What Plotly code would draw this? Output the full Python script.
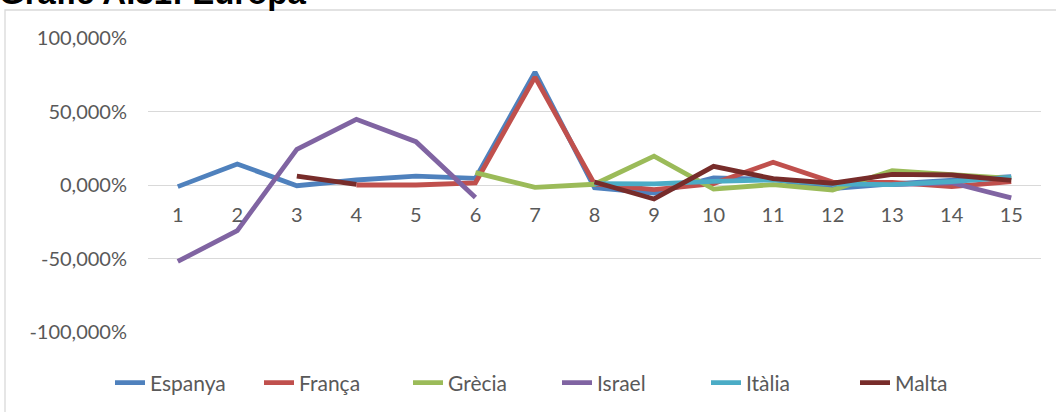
import plotly.graph_objects as go

# ---------------------------------------------------
# DATA (percent change)
# ---------------------------------------------------

periods = [1, 2, 3, 4, 5, 6, 7, 8, 9, 10, 11, 12, 13, 14, 15]
period_labels = [str(p) for p in periods]

espanya = [-1.1, 14.3, -0.5, 3.4, 6.1, 4.5, 76.8, -1.8, -5.5, 4.8, 3.9, -2.5, 0.8, 3.2, 5.6]
franca = [None, None, None, 0.0, 0.0, 1.5, 73.4, 0.7, -3.2, 1.0, 15.5, 2.0, 1.8, -1.1, 2.3]
grecia = [None, None, None, None, None, 8.4, -1.6, 0.5, 19.6, -2.8, 0.3, -3.4, 9.8, 7.0, 4.5]
israel = [-52.0, -31.0, 24.3, 44.7, 29.5, -8.5, None, None, None, None, None, None, 0.3, 1.5, -8.8]
italia = [None, None, None, None, None, None, None, 1.0, 0.7, 2.5, 3.5, 0.8, 0.2, 2.3, 5.2]
malta = [None, None, 6.1, 0.5, None, None, None, 2.0, -9.5, 12.7, 4.3, 1.2, 7.2, 6.8, 3.1]

series_names = ["Espanya", "França", "Grècia", "Israel", "Itàlia", "Malta"]
series_values = [espanya, franca, grecia, israel, italia, malta]
series_colors = ["#4F81BD", "#C0504D", "#9BBB59", "#8064A2", "#4BACC6", "#772C2A"]

y_ticks = [-100, -50, 0, 50, 100]
y_tick_labels = ["-100,000%", "-50,000%", "0,000%", "50,000%", "100,000%"]

title_text = "Gràfic A.31: Europa"

# ---------------------------------------------------
# FIGURE
# ---------------------------------------------------

W, H = 1056, 412
M_L, M_R, M_T, M_B = 148, 15, 38, 80
plot_w = W - M_L - M_R
plot_h = H - M_T - M_B


def px_x(px):
    return (px - M_L) / plot_w


def px_y(py):
    return (H - M_B - py) / plot_h


fig = go.Figure()

for name, vals, col in zip(series_names, series_values, series_colors):
    fig.add_trace(
        go.Scatter(
            x=periods,
            y=vals,
            mode="lines",
            name=name,
            line=dict(color=col, width=4.8),
            connectgaps=False,
        )
    )

tick_font = dict(family="Lato, Open Sans, sans-serif", size=20, color="#595959")

fig.update_layout(
    width=W,
    height=H,
    margin=dict(l=M_L, r=M_R, t=M_T, b=M_B, autoexpand=False),
    paper_bgcolor="white",
    plot_bgcolor="white",
    showlegend=True,
    legend=dict(
        orientation="h",
        x=px_x(110),
        xanchor="left",
        y=px_y(383),
        yanchor="middle",
        font=dict(family="Lato, Open Sans, sans-serif", size=21, color="#595959"),
        entrywidth=104,
        entrywidthmode="pixels",
        tracegroupgap=0,
    ),
    xaxis=dict(
        range=[0.5, 15.5],
        tickmode="array",
        tickvals=periods,
        ticktext=period_labels,
        tickfont=tick_font,
        showgrid=False,
        zeroline=False,
        showline=False,
        anchor="free",
        position=0.5,
        ticks="",
        ticklabelstandoff=16,
    ),
    yaxis=dict(
        range=[-100, 100],
        tickmode="array",
        tickvals=y_ticks,
        ticktext=y_tick_labels,
        tickfont=tick_font,
        showgrid=True,
        gridcolor="#D9D9D9",
        gridwidth=1.3,
        zeroline=True,
        zerolinecolor="#D9D9D9",
        zerolinewidth=1.3,
        showline=False,
        ticks="",
        ticklabelstandoff=20,
    ),
)

# chart frame (runs off the right and bottom edges like the screenshot)
fig.add_shape(
    type="rect",
    xref="paper",
    yref="paper",
    x0=px_x(5),
    x1=px_x(W + 40),
    y0=px_y(H + 40),
    y1=px_y(10),
    line=dict(color="#D9D9D9", width=1.3),
    fillcolor="rgba(0,0,0,0)",
    layer="below",
)

# title sits mostly above the visible area, as in the screenshot
fig.add_annotation(
    text="<b>" + title_text + "</b>",
    xref="paper",
    yref="paper",
    x=px_x(-3),
    y=px_y(13),
    xanchor="left",
    yanchor="bottom",
    showarrow=False,
    font=dict(family="Liberation Sans, Arial, sans-serif", size=33, color="black"),
)

# page body has an 8px default margin; drop it so the figure fills the window
fig.write_html(
    "out.html",
    config={"displayModeBar": False},
    post_script="document.body.style.margin='0';",
)
